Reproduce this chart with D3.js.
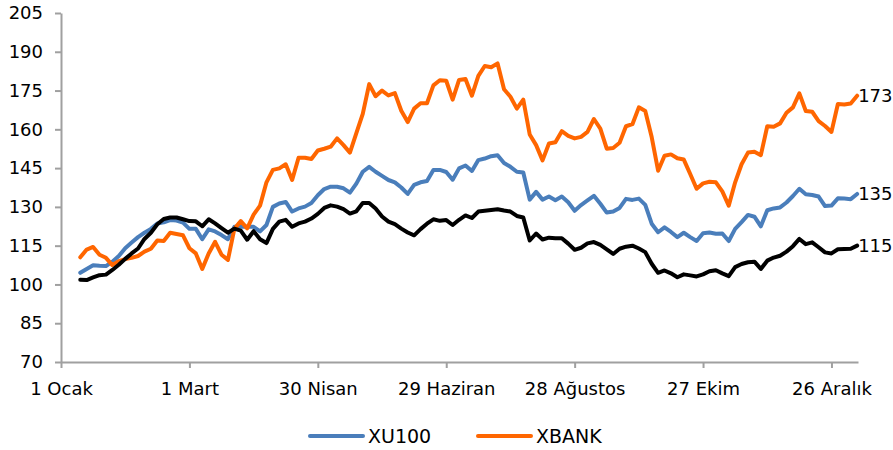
<!DOCTYPE html>
<html><head><meta charset="utf-8">
<script src="https://cdn.jsdelivr.net/npm/d3@7"></script>
<style>body{margin:0;background:#fff}svg{display:block}</style>
</head><body>
<svg id="c" width="893" height="450"></svg>
<script>
// Day offsets from 1 Ocak (x categories), every 3 days
const days = d3.range(9, 373, 3);
const tickDays = [0, 60, 120, 180, 240, 300, 360];
const tickLabels = ["1 Ocak", "1 Mart", "30 Nisan", "29 Haziran", "28 Ağustos", "27 Ekim", "26 Aralık"];
const yTicks = [70, 85, 100, 115, 130, 145, 160, 175, 190, 205];

const XU100 = [
104.5,106,107.4,107.2,107.1,108.8,111,114,116.2,118.3,
120,121.5,123.6,124,124.9,124.7,123.9,121.5,121.5,117.5,
121.3,120.5,119.1,117.5,122.3,122.3,122.3,122.3,120.5,123,
130,131.3,131.9,128.2,129.4,130.1,131.5,134.5,136.9,137.8,
137.8,137.2,135.5,139,143.6,145.5,143.6,142,140.4,139.5,
137.5,135,138.5,139.5,140,144.3,144.3,143.5,140.5,144.9,
146,143.9,148.1,148.7,149.6,150,147,145.5,143.6,143.3,
132.8,135.8,132.8,134,132.6,134,131.8,128.5,130.7,132.5,
134.3,131.2,127.8,128.2,129.6,133.1,132.7,133.2,130.8,123.5,
120.2,122.1,120.3,118.3,120,118.3,116.8,119.8,120.1,119.6,
119.7,116.8,121.5,124.1,126.9,126.2,122.5,128.7,129.4,129.8,
131.7,134.2,137,134.9,134.6,134,130.3,130.5,133.3,133.2,
133,135];

const XBANK = [
110.5,113.5,114.5,111.5,110.3,107.5,109,109.8,110.3,111,
112.7,113.8,117,116.8,120,119.5,119,114,112,106,
112,116.5,111.5,109.5,121.5,124.5,121.7,127,130.5,139.5,
144.3,144.9,146.5,140.4,149,149,148.5,151.8,152.5,153.3,
156.5,153.9,151,158.5,166,177.5,172.8,175,173.1,174,
167.2,162.8,168,170.1,170.1,177,179,178.8,171.5,179.1,
179.5,173,180.7,184.5,184,185.5,175.5,172.6,168,171.5,
158,153.9,148,154.5,155,159.3,157.5,156.5,157.1,159,
164,160.3,152.5,152.8,154.8,161.2,162,168.5,167.1,157,
144,149.8,150.3,148.8,148.3,142.7,137,139.1,139.7,139.5,
136,130.5,139.5,146.5,151,151.3,150,161.2,161,162.3,
166.4,168.5,173.9,167.1,166.8,163.2,161.3,159,169.8,169.6,
170,173];

const thirdSeries = [
101.8,101.7,102.7,103.6,103.8,105.6,107.6,109.9,112,113.9,
117.6,120,123.3,125.3,125.9,125.9,125.2,124.5,124.4,122.5,
125.2,123.6,121.8,120,121.6,120.8,117.3,120.6,117.5,116,
121.5,124.3,125,122.3,123.6,124.3,125.5,127.3,129.6,130.6,
130.1,129.1,127.4,128.3,131.5,131.5,129.4,126.3,124.3,123.3,
121.6,120.1,119,121.4,123.5,125.2,124.6,124.9,123,125,
126.7,125.7,128.2,128.5,128.8,129.1,128.6,128.2,126.5,125.9,
117,119.7,117.4,118.1,117.9,117.9,115.8,113.4,114.2,115.9,
116.4,115.3,113.6,111.8,113.8,114.6,115,113.9,112.5,108,
104.5,105.4,104.3,102.8,103.9,103.5,103.1,103.9,105.1,105.5,
104.3,103.2,106.7,107.9,108.6,108.8,106,109.2,110.4,111.1,
112.7,114.8,117.6,115.6,116.3,114.4,112.4,112,113.6,113.7,
113.8,115];

const series = [
  {name: "XU100", values: XU100, color: "#4A7EBB", legend: true},
  {name: "XBANK", values: XBANK, color: "#FF6600", legend: true},
  {name: "", values: thirdSeries, color: "#000000", legend: false}
];

const svg = d3.select("#c");
const font = "DejaVu Sans, Verdana, sans-serif";
const x = d3.scaleLinear().domain([0, 372.4]).range([61, 858]);
const y = d3.scaleLinear().domain([70, 205]).range([362, 13]);
const axisColor = "#a0a0a0";

// Y axis
const ya = svg.append("g").attr("transform", "translate(61,0)")
  .call(d3.axisLeft(y).tickValues(yTicks).tickSize(6).tickPadding(12).tickSizeOuter(0));
ya.select(".domain").attr("stroke", axisColor).attr("stroke-width", 2);
ya.selectAll(".tick line").attr("stroke", axisColor).attr("stroke-width", 2);
ya.selectAll(".tick text").attr("fill", "#000").style("font-family", font).style("font-size", "18px");

// X axis
const xa = svg.append("g").attr("transform", "translate(0,362)")
  .call(d3.axisBottom(x).tickValues(tickDays).tickFormat((d, i) => tickLabels[i]).tickSize(6).tickPadding(14).tickSizeOuter(0));
xa.select(".domain").attr("stroke", axisColor).attr("stroke-width", 2);
xa.selectAll(".tick line").attr("stroke", axisColor).attr("stroke-width", 2);
xa.selectAll(".tick text").attr("fill", "#000").style("font-family", font).style("font-size", "18px");

// Lines
const line = d3.line().x((d, i) => x(days[i])).y(d => y(d));
series.forEach(s => {
  svg.append("path").datum(s.values)
    .attr("fill", "none").attr("stroke", s.color).attr("stroke-width", 4)
    .attr("stroke-linejoin", "round").attr("stroke-linecap", "round")
    .attr("d", line);
});

// End labels
series.forEach(s => {
  const last = s.values[s.values.length - 1];
  svg.append("text").attr("x", x(days[days.length - 1]) + 1).attr("y", y(last))
    .attr("dy", "0.35em").attr("fill", "#000")
    .style("font-family", font).style("font-size", "18px")
    .text(Math.round(last));
});

// Legend
const legendItems = series.filter(s => s.legend);
const lg = svg.append("g");
const legX = [310, 478];
legendItems.forEach((s, i) => {
  lg.append("line").attr("x1", legX[i]).attr("x2", legX[i] + 53).attr("y1", 436).attr("y2", 436)
    .attr("stroke", s.color).attr("stroke-width", 4).attr("stroke-linecap", "round");
  lg.append("text").attr("x", legX[i] + 58).attr("y", 436).attr("dy", "0.35em")
    .attr("fill", "#000").style("font-family", font).style("font-size", "19px").text(s.name);
});
</script>
</body></html>
